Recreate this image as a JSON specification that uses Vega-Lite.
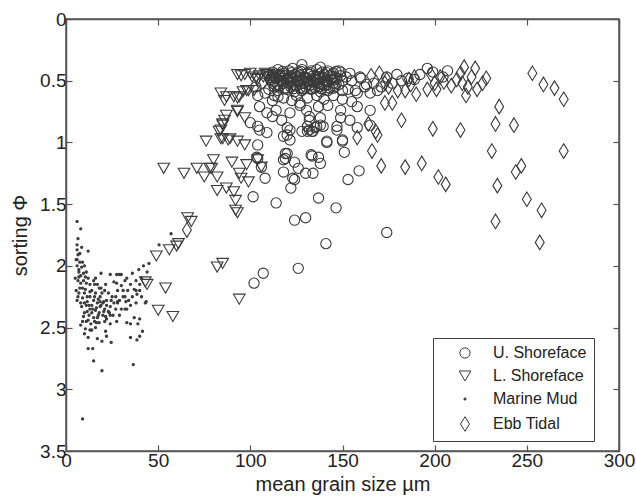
{
  "$schema": "https://vega.github.io/schema/vega-lite/v6.json",
  "width": 553,
  "height": 432,
  "autosize": {"type": "none"},
  "padding": {"left": 66, "top": 19, "right": 17, "bottom": 49},
  "background": "white",
  "config": {
    "view": {"stroke": "#555555", "strokeWidth": 1.5},
    "font": "Liberation Sans",
    "axis": {
      "domainColor": "#555555", "domainWidth": 1.5,
      "tickColor": "#555555", "tickWidth": 1.2, "tickSize": -6,
      "labelFont": "Liberation Sans", "labelFontSize": 19, "labelColor": "#222222",
      "titleFont": "Liberation Sans", "titleFontSize": 20, "titleColor": "#222222", "titleFontWeight": "normal",
      "grid": false, "labelFlush": false, "labelOverlap": false, "labelBound": false
    }
  },
  "datasets": {
    "pts": [
      {"grain": 6, "sorting": 1.64, "facies": "Marine Mud"},
      {"grain": 8, "sorting": 1.70, "facies": "Marine Mud"},
      {"grain": 6.5, "sorting": 1.78, "facies": "Marine Mud"},
      {"grain": 6, "sorting": 1.83, "facies": "Marine Mud"},
      {"grain": 50.5, "sorting": 1.83, "facies": "Marine Mud"},
      {"grain": 57, "sorting": 1.74, "facies": "Marine Mud"},
      {"grain": 9, "sorting": 3.24, "facies": "Marine Mud"},
      {"grain": 19.5, "sorting": 2.85, "facies": "Marine Mud"},
      {"grain": 15, "sorting": 2.77, "facies": "Marine Mud"},
      {"grain": 36.5, "sorting": 2.80, "facies": "Marine Mud"},
      {"grain": 12, "sorting": 2.67, "facies": "Marine Mud"},
      {"grain": 14.5, "sorting": 2.67, "facies": "Marine Mud"},
      {"grain": 17, "sorting": 2.59, "facies": "Marine Mud"},
      {"grain": 19.5, "sorting": 2.61, "facies": "Marine Mud"},
      {"grain": 22, "sorting": 2.57, "facies": "Marine Mud"},
      {"grain": 24.5, "sorting": 2.62, "facies": "Marine Mud"},
      {"grain": 21.5, "sorting": 2.53, "facies": "Marine Mud"},
      {"grain": 35, "sorting": 2.58, "facies": "Marine Mud"},
      {"grain": 38.5, "sorting": 2.60, "facies": "Marine Mud"},
      {"grain": 40, "sorting": 2.57, "facies": "Marine Mud"},
      {"grain": 41.5, "sorting": 2.53, "facies": "Marine Mud"},
      {"grain": 39, "sorting": 2.47, "facies": "Marine Mud"},
      {"grain": 40, "sorting": 2.43, "facies": "Marine Mud"},
      {"grain": 43.5, "sorting": 2.29, "facies": "Marine Mud"},
      {"grain": 41, "sorting": 2.25, "facies": "Marine Mud"},
      {"grain": 40, "sorting": 2.20, "facies": "Marine Mud"},
      {"grain": 38.5, "sorting": 2.23, "facies": "Marine Mud"},
      {"grain": 37, "sorting": 2.19, "facies": "Marine Mud"},
      {"grain": 33.5, "sorting": 2.20, "facies": "Marine Mud"},
      {"grain": 35, "sorting": 2.15, "facies": "Marine Mud"},
      {"grain": 36, "sorting": 2.06, "facies": "Marine Mud"},
      {"grain": 39.5, "sorting": 2.03, "facies": "Marine Mud"},
      {"grain": 42, "sorting": 2.00, "facies": "Marine Mud"},
      {"grain": 32, "sorting": 2.12, "facies": "Marine Mud"},
      {"grain": 30, "sorting": 2.07, "facies": "Marine Mud"},
      {"grain": 27.5, "sorting": 2.07, "facies": "Marine Mud"},
      {"grain": 24, "sorting": 2.07, "facies": "Marine Mud"},
      {"grain": 19, "sorting": 2.06, "facies": "Marine Mud"},
      {"grain": 21.5, "sorting": 2.15, "facies": "Marine Mud"},
      {"grain": 27.5, "sorting": 2.14, "facies": "Marine Mud"},
      {"grain": 28, "sorting": 2.20, "facies": "Marine Mud"},
      {"grain": 31, "sorting": 2.20, "facies": "Marine Mud"},
      {"grain": 32, "sorting": 2.25, "facies": "Marine Mud"},
      {"grain": 28, "sorting": 2.29, "facies": "Marine Mud"},
      {"grain": 32.5, "sorting": 2.29, "facies": "Marine Mud"},
      {"grain": 32, "sorting": 2.35, "facies": "Marine Mud"},
      {"grain": 27, "sorting": 2.35, "facies": "Marine Mud"},
      {"grain": 24, "sorting": 2.40, "facies": "Marine Mud"},
      {"grain": 25.5, "sorting": 2.40, "facies": "Marine Mud"},
      {"grain": 27.5, "sorting": 2.45, "facies": "Marine Mud"},
      {"grain": 33, "sorting": 2.46, "facies": "Marine Mud"},
      {"grain": 6, "sorting": 1.87, "facies": "Marine Mud"},
      {"grain": 6.5, "sorting": 1.91, "facies": "Marine Mud"},
      {"grain": 6, "sorting": 1.95, "facies": "Marine Mud"},
      {"grain": 7.5, "sorting": 1.97, "facies": "Marine Mud"},
      {"grain": 8.5, "sorting": 2.01, "facies": "Marine Mud"},
      {"grain": 7, "sorting": 2.03, "facies": "Marine Mud"},
      {"grain": 9.5, "sorting": 2.06, "facies": "Marine Mud"},
      {"grain": 7, "sorting": 2.09, "facies": "Marine Mud"},
      {"grain": 10.5, "sorting": 2.09, "facies": "Marine Mud"},
      {"grain": 8, "sorting": 2.14, "facies": "Marine Mud"},
      {"grain": 11, "sorting": 2.14, "facies": "Marine Mud"},
      {"grain": 7.5, "sorting": 2.18, "facies": "Marine Mud"},
      {"grain": 10.5, "sorting": 2.19, "facies": "Marine Mud"},
      {"grain": 13, "sorting": 2.21, "facies": "Marine Mud"},
      {"grain": 15.5, "sorting": 2.15, "facies": "Marine Mud"},
      {"grain": 18, "sorting": 2.18, "facies": "Marine Mud"},
      {"grain": 15.5, "sorting": 2.25, "facies": "Marine Mud"},
      {"grain": 18.5, "sorting": 2.25, "facies": "Marine Mud"},
      {"grain": 20.5, "sorting": 2.29, "facies": "Marine Mud"},
      {"grain": 22, "sorting": 2.32, "facies": "Marine Mud"},
      {"grain": 24.5, "sorting": 2.28, "facies": "Marine Mud"},
      {"grain": 18.5, "sorting": 2.33, "facies": "Marine Mud"},
      {"grain": 16.5, "sorting": 2.34, "facies": "Marine Mud"},
      {"grain": 14, "sorting": 2.32, "facies": "Marine Mud"},
      {"grain": 11.5, "sorting": 2.29, "facies": "Marine Mud"},
      {"grain": 9, "sorting": 2.26, "facies": "Marine Mud"},
      {"grain": 6.5, "sorting": 2.25, "facies": "Marine Mud"},
      {"grain": 8.5, "sorting": 2.33, "facies": "Marine Mud"},
      {"grain": 11.5, "sorting": 2.37, "facies": "Marine Mud"},
      {"grain": 14, "sorting": 2.38, "facies": "Marine Mud"},
      {"grain": 9.5, "sorting": 2.41, "facies": "Marine Mud"},
      {"grain": 12, "sorting": 2.44, "facies": "Marine Mud"},
      {"grain": 15, "sorting": 2.42, "facies": "Marine Mud"},
      {"grain": 16.5, "sorting": 2.46, "facies": "Marine Mud"},
      {"grain": 10.5, "sorting": 2.51, "facies": "Marine Mud"},
      {"grain": 13, "sorting": 2.52, "facies": "Marine Mud"},
      {"grain": 20.5, "sorting": 2.37, "facies": "Marine Mud"},
      {"grain": 21.5, "sorting": 2.41, "facies": "Marine Mud"},
      {"grain": 17.5, "sorting": 2.40, "facies": "Marine Mud"},
      {"grain": 23, "sorting": 2.37, "facies": "Marine Mud"},
      {"grain": 5.5, "sorting": 1.95, "facies": "Marine Mud"},
      {"grain": 6, "sorting": 2.00, "facies": "Marine Mud"},
      {"grain": 7, "sorting": 2.05, "facies": "Marine Mud"},
      {"grain": 5, "sorting": 2.10, "facies": "Marine Mud"},
      {"grain": 6.5, "sorting": 2.12, "facies": "Marine Mud"},
      {"grain": 8, "sorting": 2.08, "facies": "Marine Mud"},
      {"grain": 5.5, "sorting": 2.20, "facies": "Marine Mud"},
      {"grain": 7, "sorting": 2.22, "facies": "Marine Mud"},
      {"grain": 6, "sorting": 2.28, "facies": "Marine Mud"},
      {"grain": 8, "sorting": 2.30, "facies": "Marine Mud"},
      {"grain": 9, "sorting": 2.18, "facies": "Marine Mud"},
      {"grain": 10, "sorting": 2.22, "facies": "Marine Mud"},
      {"grain": 9.5, "sorting": 2.12, "facies": "Marine Mud"},
      {"grain": 11, "sorting": 2.05, "facies": "Marine Mud"},
      {"grain": 12, "sorting": 2.10, "facies": "Marine Mud"},
      {"grain": 11.5, "sorting": 2.25, "facies": "Marine Mud"},
      {"grain": 10, "sorting": 2.30, "facies": "Marine Mud"},
      {"grain": 12.5, "sorting": 2.32, "facies": "Marine Mud"},
      {"grain": 13, "sorting": 2.25, "facies": "Marine Mud"},
      {"grain": 14, "sorting": 2.20, "facies": "Marine Mud"},
      {"grain": 15, "sorting": 2.28, "facies": "Marine Mud"},
      {"grain": 16, "sorting": 2.22, "facies": "Marine Mud"},
      {"grain": 17, "sorting": 2.30, "facies": "Marine Mud"},
      {"grain": 16, "sorting": 2.36, "facies": "Marine Mud"},
      {"grain": 17.5, "sorting": 2.27, "facies": "Marine Mud"},
      {"grain": 19, "sorting": 2.32, "facies": "Marine Mud"},
      {"grain": 19.5, "sorting": 2.22, "facies": "Marine Mud"},
      {"grain": 20, "sorting": 2.40, "facies": "Marine Mud"},
      {"grain": 21, "sorting": 2.35, "facies": "Marine Mud"},
      {"grain": 22, "sorting": 2.28, "facies": "Marine Mud"},
      {"grain": 23, "sorting": 2.22, "facies": "Marine Mud"},
      {"grain": 24, "sorting": 2.33, "facies": "Marine Mud"},
      {"grain": 25, "sorting": 2.25, "facies": "Marine Mud"},
      {"grain": 26, "sorting": 2.30, "facies": "Marine Mud"},
      {"grain": 10, "sorting": 2.38, "facies": "Marine Mud"},
      {"grain": 11, "sorting": 2.45, "facies": "Marine Mud"},
      {"grain": 12.5, "sorting": 2.40, "facies": "Marine Mud"},
      {"grain": 13.5, "sorting": 2.47, "facies": "Marine Mud"},
      {"grain": 14.5, "sorting": 2.35, "facies": "Marine Mud"},
      {"grain": 15.5, "sorting": 2.45, "facies": "Marine Mud"},
      {"grain": 16, "sorting": 2.50, "facies": "Marine Mud"},
      {"grain": 17, "sorting": 2.42, "facies": "Marine Mud"},
      {"grain": 18, "sorting": 2.38, "facies": "Marine Mud"},
      {"grain": 9, "sorting": 2.45, "facies": "Marine Mud"},
      {"grain": 8, "sorting": 2.48, "facies": "Marine Mud"},
      {"grain": 10, "sorting": 2.55, "facies": "Marine Mud"},
      {"grain": 12, "sorting": 2.58, "facies": "Marine Mud"},
      {"grain": 14, "sorting": 2.52, "facies": "Marine Mud"},
      {"grain": 18, "sorting": 2.46, "facies": "Marine Mud"},
      {"grain": 20, "sorting": 2.30, "facies": "Marine Mud"},
      {"grain": 22, "sorting": 2.43, "facies": "Marine Mud"},
      {"grain": 23.5, "sorting": 2.38, "facies": "Marine Mud"},
      {"grain": 27, "sorting": 2.25, "facies": "Marine Mud"},
      {"grain": 29, "sorting": 2.28, "facies": "Marine Mud"},
      {"grain": 30, "sorting": 2.35, "facies": "Marine Mud"},
      {"grain": 31, "sorting": 2.25, "facies": "Marine Mud"},
      {"grain": 34, "sorting": 2.28, "facies": "Marine Mud"},
      {"grain": 36, "sorting": 2.25, "facies": "Marine Mud"},
      {"grain": 38, "sorting": 2.30, "facies": "Marine Mud"},
      {"grain": 37, "sorting": 2.42, "facies": "Marine Mud"},
      {"grain": 35, "sorting": 2.47, "facies": "Marine Mud"},
      {"grain": 26, "sorting": 2.13, "facies": "Marine Mud"},
      {"grain": 28, "sorting": 2.30, "facies": "Marine Mud"},
      {"grain": 30, "sorting": 2.16, "facies": "Marine Mud"},
      {"grain": 33, "sorting": 2.10, "facies": "Marine Mud"},
      {"grain": 38, "sorting": 2.12, "facies": "Marine Mud"},
      {"grain": 40, "sorting": 2.15, "facies": "Marine Mud"},
      {"grain": 13, "sorting": 2.15, "facies": "Marine Mud"},
      {"grain": 15, "sorting": 2.12, "facies": "Marine Mud"},
      {"grain": 17, "sorting": 2.15, "facies": "Marine Mud"},
      {"grain": 19, "sorting": 2.18, "facies": "Marine Mud"},
      {"grain": 21, "sorting": 2.20, "facies": "Marine Mud"},
      {"grain": 7.5, "sorting": 1.90, "facies": "Marine Mud"},
      {"grain": 8.5, "sorting": 1.85, "facies": "Marine Mud"},
      {"grain": 9, "sorting": 1.97, "facies": "Marine Mud"},
      {"grain": 10, "sorting": 2.00, "facies": "Marine Mud"},
      {"grain": 12, "sorting": 1.88, "facies": "Marine Mud"},
      {"grain": 16, "sorting": 2.10, "facies": "Marine Mud"},
      {"grain": 11, "sorting": 2.32, "facies": "Marine Mud"},
      {"grain": 13, "sorting": 2.35, "facies": "Marine Mud"},
      {"grain": 18.5, "sorting": 2.29, "facies": "Marine Mud"},
      {"grain": 21, "sorting": 2.45, "facies": "Marine Mud"},
      {"grain": 24, "sorting": 2.47, "facies": "Marine Mud"},
      {"grain": 29, "sorting": 2.40, "facies": "Marine Mud"},
      {"grain": 33, "sorting": 2.35, "facies": "Marine Mud"},
      {"grain": 35, "sorting": 2.32, "facies": "Marine Mud"},
      {"grain": 38, "sorting": 2.20, "facies": "Marine Mud"},
      {"grain": 41, "sorting": 2.10, "facies": "Marine Mud"},
      {"grain": 43, "sorting": 2.30, "facies": "Marine Mud"},
      {"grain": 44, "sorting": 2.05, "facies": "Marine Mud"},
      {"grain": 45, "sorting": 1.98, "facies": "Marine Mud"},
      {"grain": 29, "sorting": 2.07, "facies": "Marine Mud"},

      {"grain": 93, "sorting": 0.45, "facies": "L. Shoreface"},
      {"grain": 101, "sorting": 0.47, "facies": "L. Shoreface"},
      {"grain": 104, "sorting": 0.49, "facies": "L. Shoreface"},
      {"grain": 109, "sorting": 0.45, "facies": "L. Shoreface"},
      {"grain": 99, "sorting": 0.58, "facies": "L. Shoreface"},
      {"grain": 96, "sorting": 0.59, "facies": "L. Shoreface"},
      {"grain": 87, "sorting": 0.63, "facies": "L. Shoreface"},
      {"grain": 91, "sorting": 0.63, "facies": "L. Shoreface"},
      {"grain": 93, "sorting": 0.64, "facies": "L. Shoreface"},
      {"grain": 84, "sorting": 0.60, "facies": "L. Shoreface"},
      {"grain": 86, "sorting": 0.66, "facies": "L. Shoreface"},
      {"grain": 93, "sorting": 0.75, "facies": "L. Shoreface"},
      {"grain": 87, "sorting": 0.78, "facies": "L. Shoreface"},
      {"grain": 86, "sorting": 0.82, "facies": "L. Shoreface"},
      {"grain": 85, "sorting": 0.86, "facies": "L. Shoreface"},
      {"grain": 83, "sorting": 0.91, "facies": "L. Shoreface"},
      {"grain": 97, "sorting": 0.80, "facies": "L. Shoreface"},
      {"grain": 85, "sorting": 0.97, "facies": "L. Shoreface"},
      {"grain": 89, "sorting": 0.97, "facies": "L. Shoreface"},
      {"grain": 93, "sorting": 0.99, "facies": "L. Shoreface"},
      {"grain": 97, "sorting": 1.02, "facies": "L. Shoreface"},
      {"grain": 76, "sorting": 0.99, "facies": "L. Shoreface"},
      {"grain": 80, "sorting": 1.14, "facies": "L. Shoreface"},
      {"grain": 90, "sorting": 1.16, "facies": "L. Shoreface"},
      {"grain": 53, "sorting": 1.21, "facies": "L. Shoreface"},
      {"grain": 64, "sorting": 1.25, "facies": "L. Shoreface"},
      {"grain": 71, "sorting": 1.21, "facies": "L. Shoreface"},
      {"grain": 75, "sorting": 1.28, "facies": "L. Shoreface"},
      {"grain": 82, "sorting": 1.28, "facies": "L. Shoreface"},
      {"grain": 78, "sorting": 1.21, "facies": "L. Shoreface"},
      {"grain": 98, "sorting": 1.18, "facies": "L. Shoreface"},
      {"grain": 94, "sorting": 1.25, "facies": "L. Shoreface"},
      {"grain": 99, "sorting": 1.32, "facies": "L. Shoreface"},
      {"grain": 95, "sorting": 1.29, "facies": "L. Shoreface"},
      {"grain": 82, "sorting": 1.39, "facies": "L. Shoreface"},
      {"grain": 87, "sorting": 1.37, "facies": "L. Shoreface"},
      {"grain": 91, "sorting": 1.40, "facies": "L. Shoreface"},
      {"grain": 92, "sorting": 1.47, "facies": "L. Shoreface"},
      {"grain": 92, "sorting": 1.55, "facies": "L. Shoreface"},
      {"grain": 93, "sorting": 1.57, "facies": "L. Shoreface"},
      {"grain": 66, "sorting": 1.61, "facies": "L. Shoreface"},
      {"grain": 68, "sorting": 1.64, "facies": "L. Shoreface"},
      {"grain": 61, "sorting": 1.82, "facies": "L. Shoreface"},
      {"grain": 56, "sorting": 1.87, "facies": "L. Shoreface"},
      {"grain": 49, "sorting": 1.92, "facies": "L. Shoreface"},
      {"grain": 43, "sorting": 2.13, "facies": "L. Shoreface"},
      {"grain": 44, "sorting": 2.15, "facies": "L. Shoreface"},
      {"grain": 54, "sorting": 2.18, "facies": "L. Shoreface"},
      {"grain": 50, "sorting": 2.36, "facies": "L. Shoreface"},
      {"grain": 58, "sorting": 2.41, "facies": "L. Shoreface"},
      {"grain": 82, "sorting": 2.01, "facies": "L. Shoreface"},
      {"grain": 85, "sorting": 1.98, "facies": "L. Shoreface"},
      {"grain": 94, "sorting": 2.27, "facies": "L. Shoreface"},
      {"grain": 79, "sorting": 1.21, "facies": "L. Shoreface"},
      {"grain": 84, "sorting": 0.97, "facies": "L. Shoreface"},
      {"grain": 88, "sorting": 0.98, "facies": "L. Shoreface"},
      {"grain": 104, "sorting": 1.14, "facies": "L. Shoreface"},
      {"grain": 106, "sorting": 1.20, "facies": "L. Shoreface"},
      {"grain": 84, "sorting": 0.90, "facies": "L. Shoreface"},
      {"grain": 85, "sorting": 0.85, "facies": "L. Shoreface"},
      {"grain": 100, "sorting": 0.44, "facies": "L. Shoreface"},
      {"grain": 108, "sorting": 0.44, "facies": "L. Shoreface"},
      {"grain": 98, "sorting": 0.58, "facies": "L. Shoreface"},
      {"grain": 94, "sorting": 0.63, "facies": "L. Shoreface"},
      {"grain": 102, "sorting": 0.58, "facies": "L. Shoreface"},
      {"grain": 93, "sorting": 0.74, "facies": "L. Shoreface"},
      {"grain": 95, "sorting": 0.46, "facies": "L. Shoreface"},
      {"grain": 97, "sorting": 0.45, "facies": "L. Shoreface"},
      {"grain": 103, "sorting": 0.48, "facies": "L. Shoreface"},
      {"grain": 105, "sorting": 0.46, "facies": "L. Shoreface"},
      {"grain": 107, "sorting": 0.47, "facies": "L. Shoreface"},
      {"grain": 110, "sorting": 0.45, "facies": "L. Shoreface"},
      {"grain": 112, "sorting": 0.47, "facies": "L. Shoreface"},
      {"grain": 114, "sorting": 0.46, "facies": "L. Shoreface"},
      {"grain": 117, "sorting": 0.48, "facies": "L. Shoreface"},
      {"grain": 120, "sorting": 0.46, "facies": "L. Shoreface"},
      {"grain": 60, "sorting": 1.84, "facies": "L. Shoreface"},

      {"grain": 102, "sorting": 2.14, "facies": "U. Shoreface"},
      {"grain": 107, "sorting": 2.06, "facies": "U. Shoreface"},
      {"grain": 126, "sorting": 2.02, "facies": "U. Shoreface"},
      {"grain": 141, "sorting": 1.82, "facies": "U. Shoreface"},
      {"grain": 174, "sorting": 1.73, "facies": "U. Shoreface"},
      {"grain": 124, "sorting": 1.63, "facies": "U. Shoreface"},
      {"grain": 130, "sorting": 1.61, "facies": "U. Shoreface"},
      {"grain": 137, "sorting": 1.45, "facies": "U. Shoreface"},
      {"grain": 146.5, "sorting": 1.53, "facies": "U. Shoreface"},
      {"grain": 101.5, "sorting": 1.44, "facies": "U. Shoreface"},
      {"grain": 114, "sorting": 1.49, "facies": "U. Shoreface"},
      {"grain": 122, "sorting": 1.37, "facies": "U. Shoreface"},
      {"grain": 123, "sorting": 1.29, "facies": "U. Shoreface"},
      {"grain": 153, "sorting": 1.30, "facies": "U. Shoreface"},
      {"grain": 159, "sorting": 1.23, "facies": "U. Shoreface"},
      {"grain": 118, "sorting": 1.24, "facies": "U. Shoreface"},
      {"grain": 130, "sorting": 1.25, "facies": "U. Shoreface"},
      {"grain": 134, "sorting": 1.25, "facies": "U. Shoreface"},
      {"grain": 126, "sorting": 1.21, "facies": "U. Shoreface"},
      {"grain": 124, "sorting": 1.16, "facies": "U. Shoreface"},
      {"grain": 133.5, "sorting": 1.11, "facies": "U. Shoreface"},
      {"grain": 138, "sorting": 1.17, "facies": "U. Shoreface"},
      {"grain": 151, "sorting": 1.08, "facies": "U. Shoreface"},
      {"grain": 150, "sorting": 0.99, "facies": "U. Shoreface"},
      {"grain": 141.5, "sorting": 1.00, "facies": "U. Shoreface"},
      {"grain": 128, "sorting": 0.91, "facies": "U. Shoreface"},
      {"grain": 133.5, "sorting": 0.91, "facies": "U. Shoreface"},
      {"grain": 138, "sorting": 0.86, "facies": "U. Shoreface"},
      {"grain": 147, "sorting": 0.90, "facies": "U. Shoreface"},
      {"grain": 120, "sorting": 0.94, "facies": "U. Shoreface"},
      {"grain": 120, "sorting": 1.09, "facies": "U. Shoreface"},
      {"grain": 118, "sorting": 1.14, "facies": "U. Shoreface"},
      {"grain": 104, "sorting": 1.02, "facies": "U. Shoreface"},
      {"grain": 104, "sorting": 1.13, "facies": "U. Shoreface"},
      {"grain": 108, "sorting": 1.29, "facies": "U. Shoreface"},
      {"grain": 105, "sorting": 0.90, "facies": "U. Shoreface"},
      {"grain": 109, "sorting": 0.92, "facies": "U. Shoreface"},
      {"grain": 119, "sorting": 1.13, "facies": "U. Shoreface"},
      {"grain": 121.5, "sorting": 0.90, "facies": "U. Shoreface"},
      {"grain": 132, "sorting": 0.90, "facies": "U. Shoreface"},
      {"grain": 136, "sorting": 0.87, "facies": "U. Shoreface"},
      {"grain": 105, "sorting": 0.71, "facies": "U. Shoreface"},
      {"grain": 109, "sorting": 0.76, "facies": "U. Shoreface"},
      {"grain": 112, "sorting": 0.79, "facies": "U. Shoreface"},
      {"grain": 114, "sorting": 0.74, "facies": "U. Shoreface"},
      {"grain": 121.5, "sorting": 0.76, "facies": "U. Shoreface"},
      {"grain": 117, "sorting": 0.82, "facies": "U. Shoreface"},
      {"grain": 120, "sorting": 0.88, "facies": "U. Shoreface"},
      {"grain": 104, "sorting": 0.87, "facies": "U. Shoreface"},
      {"grain": 100, "sorting": 0.84, "facies": "U. Shoreface"},
      {"grain": 112, "sorting": 0.66, "facies": "U. Shoreface"},
      {"grain": 115, "sorting": 0.63, "facies": "U. Shoreface"},
      {"grain": 122.5, "sorting": 0.66, "facies": "U. Shoreface"},
      {"grain": 127, "sorting": 0.68, "facies": "U. Shoreface"},
      {"grain": 130.5, "sorting": 0.74, "facies": "U. Shoreface"},
      {"grain": 132, "sorting": 0.82, "facies": "U. Shoreface"},
      {"grain": 135, "sorting": 0.88, "facies": "U. Shoreface"},
      {"grain": 131, "sorting": 0.91, "facies": "U. Shoreface"},
      {"grain": 118, "sorting": 0.95, "facies": "U. Shoreface"},
      {"grain": 121.5, "sorting": 0.98, "facies": "U. Shoreface"},
      {"grain": 119, "sorting": 1.09, "facies": "U. Shoreface"},
      {"grain": 106, "sorting": 1.20, "facies": "U. Shoreface"},
      {"grain": 103.5, "sorting": 1.12, "facies": "U. Shoreface"},
      {"grain": 137, "sorting": 1.12, "facies": "U. Shoreface"},
      {"grain": 133, "sorting": 1.10, "facies": "U. Shoreface"},
      {"grain": 124, "sorting": 1.30, "facies": "U. Shoreface"},
      {"grain": 149, "sorting": 0.74, "facies": "U. Shoreface"},
      {"grain": 158, "sorting": 0.71, "facies": "U. Shoreface"},
      {"grain": 165, "sorting": 0.74, "facies": "U. Shoreface"},
      {"grain": 149, "sorting": 0.80, "facies": "U. Shoreface"},
      {"grain": 154, "sorting": 0.82, "facies": "U. Shoreface"},
      {"grain": 158, "sorting": 0.88, "facies": "U. Shoreface"},
      {"grain": 165, "sorting": 0.86, "facies": "U. Shoreface"},
      {"grain": 141.5, "sorting": 0.99, "facies": "U. Shoreface"},
      {"grain": 150, "sorting": 0.98, "facies": "U. Shoreface"},
      {"grain": 132, "sorting": 0.79, "facies": "U. Shoreface"},
      {"grain": 137, "sorting": 0.71, "facies": "U. Shoreface"},
      {"grain": 138, "sorting": 0.80, "facies": "U. Shoreface"},
      {"grain": 131, "sorting": 0.87, "facies": "U. Shoreface"},
      {"grain": 134, "sorting": 0.91, "facies": "U. Shoreface"},
      {"grain": 139.5, "sorting": 0.87, "facies": "U. Shoreface"},
      {"grain": 147, "sorting": 0.87, "facies": "U. Shoreface"},
      {"grain": 149, "sorting": 0.43, "facies": "U. Shoreface"},
      {"grain": 154, "sorting": 0.44, "facies": "U. Shoreface"},
      {"grain": 159.5, "sorting": 0.47, "facies": "U. Shoreface"},
      {"grain": 163, "sorting": 0.53, "facies": "U. Shoreface"},
      {"grain": 157, "sorting": 0.58, "facies": "U. Shoreface"},
      {"grain": 169, "sorting": 0.58, "facies": "U. Shoreface"},
      {"grain": 174, "sorting": 0.47, "facies": "U. Shoreface"},
      {"grain": 179.5, "sorting": 0.45, "facies": "U. Shoreface"},
      {"grain": 185.5, "sorting": 0.48, "facies": "U. Shoreface"},
      {"grain": 189, "sorting": 0.49, "facies": "U. Shoreface"},
      {"grain": 196, "sorting": 0.40, "facies": "U. Shoreface"},
      {"grain": 199, "sorting": 0.43, "facies": "U. Shoreface"},
      {"grain": 204.5, "sorting": 0.47, "facies": "U. Shoreface"},
      {"grain": 150, "sorting": 0.58, "facies": "U. Shoreface"},
      {"grain": 145, "sorting": 0.56, "facies": "U. Shoreface"},
      {"grain": 138, "sorting": 0.39, "facies": "U. Shoreface"},
      {"grain": 128, "sorting": 0.37, "facies": "U. Shoreface"},
      {"grain": 152, "sorting": 0.47, "facies": "U. Shoreface"},
      {"grain": 155, "sorting": 0.50, "facies": "U. Shoreface"},
      {"grain": 160, "sorting": 0.48, "facies": "U. Shoreface"},
      {"grain": 162, "sorting": 0.55, "facies": "U. Shoreface"},
      {"grain": 165, "sorting": 0.60, "facies": "U. Shoreface"},
      {"grain": 158, "sorting": 0.60, "facies": "U. Shoreface"},
      {"grain": 153, "sorting": 0.57, "facies": "U. Shoreface"},
      {"grain": 167, "sorting": 0.52, "facies": "U. Shoreface"},
      {"grain": 171, "sorting": 0.55, "facies": "U. Shoreface"},
      {"grain": 177, "sorting": 0.52, "facies": "U. Shoreface"},
      {"grain": 182, "sorting": 0.50, "facies": "U. Shoreface"},
      {"grain": 192, "sorting": 0.45, "facies": "U. Shoreface"},
      {"grain": 207, "sorting": 0.42, "facies": "U. Shoreface"},
      {"grain": 103, "sorting": 0.55, "facies": "U. Shoreface"},
      {"grain": 106, "sorting": 0.52, "facies": "U. Shoreface"},
      {"grain": 108, "sorting": 0.60, "facies": "U. Shoreface"},
      {"grain": 110, "sorting": 0.57, "facies": "U. Shoreface"},
      {"grain": 104, "sorting": 0.62, "facies": "U. Shoreface"},
      {"grain": 113, "sorting": 0.62, "facies": "U. Shoreface"},
      {"grain": 118, "sorting": 0.64, "facies": "U. Shoreface"},
      {"grain": 125, "sorting": 0.62, "facies": "U. Shoreface"},
      {"grain": 131, "sorting": 0.64, "facies": "U. Shoreface"},
      {"grain": 136, "sorting": 0.62, "facies": "U. Shoreface"},
      {"grain": 140, "sorting": 0.65, "facies": "U. Shoreface"},
      {"grain": 145, "sorting": 0.62, "facies": "U. Shoreface"},
      {"grain": 150, "sorting": 0.65, "facies": "U. Shoreface"},
      {"grain": 155, "sorting": 0.67, "facies": "U. Shoreface"},
      {"grain": 142, "sorting": 0.70, "facies": "U. Shoreface"},
      {"grain": 127, "sorting": 0.70, "facies": "U. Shoreface"},
      {"grain": 112, "sorting": 0.43, "facies": "U. Shoreface"},
      {"grain": 115, "sorting": 0.41, "facies": "U. Shoreface"},
      {"grain": 118, "sorting": 0.44, "facies": "U. Shoreface"},
      {"grain": 121, "sorting": 0.42, "facies": "U. Shoreface"},
      {"grain": 123, "sorting": 0.40, "facies": "U. Shoreface"},
      {"grain": 126, "sorting": 0.43, "facies": "U. Shoreface"},
      {"grain": 128, "sorting": 0.41, "facies": "U. Shoreface"},
      {"grain": 131, "sorting": 0.44, "facies": "U. Shoreface"},
      {"grain": 133, "sorting": 0.42, "facies": "U. Shoreface"},
      {"grain": 136, "sorting": 0.41, "facies": "U. Shoreface"},
      {"grain": 139, "sorting": 0.43, "facies": "U. Shoreface"},
      {"grain": 142, "sorting": 0.42, "facies": "U. Shoreface"},
      {"grain": 145, "sorting": 0.44, "facies": "U. Shoreface"},
      {"grain": 148, "sorting": 0.42, "facies": "U. Shoreface"},
      {"grain": 110, "sorting": 0.46, "facies": "U. Shoreface"},
      {"grain": 113, "sorting": 0.47, "facies": "U. Shoreface"},
      {"grain": 116, "sorting": 0.45, "facies": "U. Shoreface"},
      {"grain": 119, "sorting": 0.46, "facies": "U. Shoreface"},
      {"grain": 122, "sorting": 0.47, "facies": "U. Shoreface"},
      {"grain": 124, "sorting": 0.45, "facies": "U. Shoreface"},
      {"grain": 127, "sorting": 0.46, "facies": "U. Shoreface"},
      {"grain": 129, "sorting": 0.47, "facies": "U. Shoreface"},
      {"grain": 132, "sorting": 0.45, "facies": "U. Shoreface"},
      {"grain": 134, "sorting": 0.46, "facies": "U. Shoreface"},
      {"grain": 137, "sorting": 0.47, "facies": "U. Shoreface"},
      {"grain": 140, "sorting": 0.45, "facies": "U. Shoreface"},
      {"grain": 143, "sorting": 0.46, "facies": "U. Shoreface"},
      {"grain": 146, "sorting": 0.47, "facies": "U. Shoreface"},
      {"grain": 149, "sorting": 0.46, "facies": "U. Shoreface"},
      {"grain": 111, "sorting": 0.49, "facies": "U. Shoreface"},
      {"grain": 114, "sorting": 0.48, "facies": "U. Shoreface"},
      {"grain": 117, "sorting": 0.50, "facies": "U. Shoreface"},
      {"grain": 120, "sorting": 0.49, "facies": "U. Shoreface"},
      {"grain": 123, "sorting": 0.48, "facies": "U. Shoreface"},
      {"grain": 125, "sorting": 0.50, "facies": "U. Shoreface"},
      {"grain": 128, "sorting": 0.49, "facies": "U. Shoreface"},
      {"grain": 130, "sorting": 0.48, "facies": "U. Shoreface"},
      {"grain": 133, "sorting": 0.50, "facies": "U. Shoreface"},
      {"grain": 135, "sorting": 0.49, "facies": "U. Shoreface"},
      {"grain": 138, "sorting": 0.48, "facies": "U. Shoreface"},
      {"grain": 141, "sorting": 0.50, "facies": "U. Shoreface"},
      {"grain": 144, "sorting": 0.49, "facies": "U. Shoreface"},
      {"grain": 147, "sorting": 0.48, "facies": "U. Shoreface"},
      {"grain": 150, "sorting": 0.50, "facies": "U. Shoreface"},
      {"grain": 112, "sorting": 0.52, "facies": "U. Shoreface"},
      {"grain": 115, "sorting": 0.53, "facies": "U. Shoreface"},
      {"grain": 118, "sorting": 0.51, "facies": "U. Shoreface"},
      {"grain": 121, "sorting": 0.52, "facies": "U. Shoreface"},
      {"grain": 124, "sorting": 0.53, "facies": "U. Shoreface"},
      {"grain": 126, "sorting": 0.51, "facies": "U. Shoreface"},
      {"grain": 129, "sorting": 0.52, "facies": "U. Shoreface"},
      {"grain": 131, "sorting": 0.53, "facies": "U. Shoreface"},
      {"grain": 134, "sorting": 0.51, "facies": "U. Shoreface"},
      {"grain": 136, "sorting": 0.52, "facies": "U. Shoreface"},
      {"grain": 139, "sorting": 0.53, "facies": "U. Shoreface"},
      {"grain": 142, "sorting": 0.51, "facies": "U. Shoreface"},
      {"grain": 145, "sorting": 0.52, "facies": "U. Shoreface"},
      {"grain": 148, "sorting": 0.53, "facies": "U. Shoreface"},
      {"grain": 113, "sorting": 0.55, "facies": "U. Shoreface"},
      {"grain": 116, "sorting": 0.54, "facies": "U. Shoreface"},
      {"grain": 119, "sorting": 0.56, "facies": "U. Shoreface"},
      {"grain": 122, "sorting": 0.55, "facies": "U. Shoreface"},
      {"grain": 125, "sorting": 0.54, "facies": "U. Shoreface"},
      {"grain": 127, "sorting": 0.56, "facies": "U. Shoreface"},
      {"grain": 130, "sorting": 0.55, "facies": "U. Shoreface"},
      {"grain": 132, "sorting": 0.54, "facies": "U. Shoreface"},
      {"grain": 135, "sorting": 0.56, "facies": "U. Shoreface"},
      {"grain": 137, "sorting": 0.55, "facies": "U. Shoreface"},
      {"grain": 140, "sorting": 0.54, "facies": "U. Shoreface"},
      {"grain": 143, "sorting": 0.56, "facies": "U. Shoreface"},
      {"grain": 146, "sorting": 0.55, "facies": "U. Shoreface"},
      {"grain": 115, "sorting": 0.58, "facies": "U. Shoreface"},
      {"grain": 120, "sorting": 0.57, "facies": "U. Shoreface"},
      {"grain": 124, "sorting": 0.59, "facies": "U. Shoreface"},
      {"grain": 128, "sorting": 0.58, "facies": "U. Shoreface"},
      {"grain": 133, "sorting": 0.57, "facies": "U. Shoreface"},
      {"grain": 138, "sorting": 0.59, "facies": "U. Shoreface"},
      {"grain": 142, "sorting": 0.58, "facies": "U. Shoreface"},
      {"grain": 113.5, "sorting": 0.445, "facies": "U. Shoreface"},
      {"grain": 117.5, "sorting": 0.425, "facies": "U. Shoreface"},
      {"grain": 122.5, "sorting": 0.435, "facies": "U. Shoreface"},
      {"grain": 127.5, "sorting": 0.425, "facies": "U. Shoreface"},
      {"grain": 132.5, "sorting": 0.435, "facies": "U. Shoreface"},
      {"grain": 137.5, "sorting": 0.445, "facies": "U. Shoreface"},
      {"grain": 141.5, "sorting": 0.435, "facies": "U. Shoreface"},
      {"grain": 146.5, "sorting": 0.425, "facies": "U. Shoreface"},
      {"grain": 111.5, "sorting": 0.475, "facies": "U. Shoreface"},
      {"grain": 115.5, "sorting": 0.465, "facies": "U. Shoreface"},
      {"grain": 120.5, "sorting": 0.475, "facies": "U. Shoreface"},
      {"grain": 125.5, "sorting": 0.465, "facies": "U. Shoreface"},
      {"grain": 130.5, "sorting": 0.475, "facies": "U. Shoreface"},
      {"grain": 135.5, "sorting": 0.465, "facies": "U. Shoreface"},
      {"grain": 139.5, "sorting": 0.475, "facies": "U. Shoreface"},
      {"grain": 144.5, "sorting": 0.465, "facies": "U. Shoreface"},
      {"grain": 112.5, "sorting": 0.505, "facies": "U. Shoreface"},
      {"grain": 116.5, "sorting": 0.495, "facies": "U. Shoreface"},
      {"grain": 121.5, "sorting": 0.505, "facies": "U. Shoreface"},
      {"grain": 126.5, "sorting": 0.495, "facies": "U. Shoreface"},
      {"grain": 131.5, "sorting": 0.505, "facies": "U. Shoreface"},
      {"grain": 136.5, "sorting": 0.495, "facies": "U. Shoreface"},
      {"grain": 140.5, "sorting": 0.505, "facies": "U. Shoreface"},
      {"grain": 145.5, "sorting": 0.495, "facies": "U. Shoreface"},
      {"grain": 113.5, "sorting": 0.535, "facies": "U. Shoreface"},
      {"grain": 117.5, "sorting": 0.525, "facies": "U. Shoreface"},
      {"grain": 122.5, "sorting": 0.535, "facies": "U. Shoreface"},
      {"grain": 127.5, "sorting": 0.525, "facies": "U. Shoreface"},
      {"grain": 132.5, "sorting": 0.535, "facies": "U. Shoreface"},
      {"grain": 137.5, "sorting": 0.525, "facies": "U. Shoreface"},
      {"grain": 141.5, "sorting": 0.535, "facies": "U. Shoreface"},
      {"grain": 146.5, "sorting": 0.525, "facies": "U. Shoreface"},
      {"grain": 118.5, "sorting": 0.565, "facies": "U. Shoreface"},
      {"grain": 123.5, "sorting": 0.565, "facies": "U. Shoreface"},
      {"grain": 128.5, "sorting": 0.565, "facies": "U. Shoreface"},
      {"grain": 133.5, "sorting": 0.565, "facies": "U. Shoreface"},
      {"grain": 138.5, "sorting": 0.565, "facies": "U. Shoreface"},

      {"grain": 65.6, "sorting": 1.71, "facies": "Ebb Tidal"},
      {"grain": 170, "sorting": 0.44, "facies": "Ebb Tidal"},
      {"grain": 174, "sorting": 0.49, "facies": "Ebb Tidal"},
      {"grain": 175, "sorting": 0.55, "facies": "Ebb Tidal"},
      {"grain": 180, "sorting": 0.58, "facies": "Ebb Tidal"},
      {"grain": 184, "sorting": 0.58, "facies": "Ebb Tidal"},
      {"grain": 186, "sorting": 0.49, "facies": "Ebb Tidal"},
      {"grain": 189, "sorting": 0.47, "facies": "Ebb Tidal"},
      {"grain": 190, "sorting": 0.61, "facies": "Ebb Tidal"},
      {"grain": 196, "sorting": 0.57, "facies": "Ebb Tidal"},
      {"grain": 198, "sorting": 0.45, "facies": "Ebb Tidal"},
      {"grain": 200, "sorting": 0.52, "facies": "Ebb Tidal"},
      {"grain": 203, "sorting": 0.47, "facies": "Ebb Tidal"},
      {"grain": 201, "sorting": 0.57, "facies": "Ebb Tidal"},
      {"grain": 205, "sorting": 0.51, "facies": "Ebb Tidal"},
      {"grain": 209, "sorting": 0.54, "facies": "Ebb Tidal"},
      {"grain": 212, "sorting": 0.49, "facies": "Ebb Tidal"},
      {"grain": 214, "sorting": 0.44, "facies": "Ebb Tidal"},
      {"grain": 216, "sorting": 0.39, "facies": "Ebb Tidal"},
      {"grain": 222, "sorting": 0.40, "facies": "Ebb Tidal"},
      {"grain": 217, "sorting": 0.62, "facies": "Ebb Tidal"},
      {"grain": 218, "sorting": 0.55, "facies": "Ebb Tidal"},
      {"grain": 223, "sorting": 0.57, "facies": "Ebb Tidal"},
      {"grain": 226, "sorting": 0.52, "facies": "Ebb Tidal"},
      {"grain": 228, "sorting": 0.48, "facies": "Ebb Tidal"},
      {"grain": 215, "sorting": 0.52, "facies": "Ebb Tidal"},
      {"grain": 165.5, "sorting": 0.46, "facies": "Ebb Tidal"},
      {"grain": 173, "sorting": 0.68, "facies": "Ebb Tidal"},
      {"grain": 177, "sorting": 0.68, "facies": "Ebb Tidal"},
      {"grain": 182, "sorting": 0.82, "facies": "Ebb Tidal"},
      {"grain": 199, "sorting": 0.89, "facies": "Ebb Tidal"},
      {"grain": 214, "sorting": 0.90, "facies": "Ebb Tidal"},
      {"grain": 158, "sorting": 0.96, "facies": "Ebb Tidal"},
      {"grain": 164, "sorting": 0.85, "facies": "Ebb Tidal"},
      {"grain": 168, "sorting": 0.91, "facies": "Ebb Tidal"},
      {"grain": 169, "sorting": 0.94, "facies": "Ebb Tidal"},
      {"grain": 166, "sorting": 1.07, "facies": "Ebb Tidal"},
      {"grain": 171, "sorting": 1.19, "facies": "Ebb Tidal"},
      {"grain": 184, "sorting": 1.20, "facies": "Ebb Tidal"},
      {"grain": 193, "sorting": 1.17, "facies": "Ebb Tidal"},
      {"grain": 202, "sorting": 1.28, "facies": "Ebb Tidal"},
      {"grain": 206, "sorting": 1.34, "facies": "Ebb Tidal"},
      {"grain": 235, "sorting": 0.71, "facies": "Ebb Tidal"},
      {"grain": 233, "sorting": 0.85, "facies": "Ebb Tidal"},
      {"grain": 243, "sorting": 0.86, "facies": "Ebb Tidal"},
      {"grain": 253, "sorting": 0.44, "facies": "Ebb Tidal"},
      {"grain": 259, "sorting": 0.53, "facies": "Ebb Tidal"},
      {"grain": 265, "sorting": 0.56, "facies": "Ebb Tidal"},
      {"grain": 270, "sorting": 0.65, "facies": "Ebb Tidal"},
      {"grain": 231, "sorting": 1.07, "facies": "Ebb Tidal"},
      {"grain": 270, "sorting": 1.07, "facies": "Ebb Tidal"},
      {"grain": 247, "sorting": 1.19, "facies": "Ebb Tidal"},
      {"grain": 244, "sorting": 1.24, "facies": "Ebb Tidal"},
      {"grain": 234, "sorting": 1.35, "facies": "Ebb Tidal"},
      {"grain": 250, "sorting": 1.46, "facies": "Ebb Tidal"},
      {"grain": 258, "sorting": 1.55, "facies": "Ebb Tidal"},
      {"grain": 233, "sorting": 1.64, "facies": "Ebb Tidal"},
      {"grain": 257, "sorting": 1.81, "facies": "Ebb Tidal"},
      {"grain": 173, "sorting": 0.52, "facies": "Ebb Tidal"},
      {"grain": 187, "sorting": 0.53, "facies": "Ebb Tidal"},
      {"grain": 220, "sorting": 0.47, "facies": "Ebb Tidal"}
    ]
  },
  "data": {"name": "pts"},
  "layer": [
    {
      "mark": {"type": "point", "stroke": "#3a3a3a", "strokeWidth": 1.1, "opacity": 1},
      "encoding": {
        "x": {
          "field": "grain", "type": "quantitative",
          "scale": {"domain": [0, 300], "nice": false, "zero": false},
          "axis": {"orient": "bottom", "values": [0, 50, 100, 150, 200, 250, 300], "format": "d", "labelPadding": 6, "title": "mean grain size µm", "titlePadding": 4}
        },
        "y": {
          "field": "sorting", "type": "quantitative",
          "scale": {"domain": [0, 3.5], "nice": false, "zero": false, "reverse": true},
          "axis": {"orient": "left", "values": [0, 0.5, 1, 1.5, 2, 2.5, 3, 3.5], "format": "~g", "labelPadding": 6, "title": "sorting Φ", "titlePadding": 9}
        },
        "shape": {
          "field": "facies", "type": "nominal",
          "scale": {"domain": ["U. Shoreface", "L. Shoreface", "Marine Mud", "Ebb Tidal"], "range": ["circle", "triangle-down", "circle", "M0,-1.3L0.8,0L0,1.3L-0.8,0Z"]},
          "legend": {
            "title": null, "orient": "none", "legendX": 367, "legendY": 319,
            "strokeColor": "#404040", "fillColor": "white", "padding": 7,
            "labelFont": "Liberation Sans", "labelFontSize": 16, "labelColor": "#222222",
            "symbolOffset": 17, "labelOffset": 20, "rowPadding": 7,
            "symbolStrokeColor": "#3a3a3a", "symbolStrokeWidth": 1,
            "labelExpr": "datum.label + '\u00a0\u00a0\u00a0\u00a0\u00a0\u00a0'"
          }
        },
        "size": {
          "field": "facies", "type": "nominal",
          "scale": {"type": "ordinal", "domain": ["U. Shoreface", "L. Shoreface", "Marine Mud", "Ebb Tidal"], "range": [105, 135, 5, 125]}
        },
        "fill": {
          "field": "facies", "type": "nominal",
          "scale": {"domain": ["U. Shoreface", "L. Shoreface", "Marine Mud", "Ebb Tidal"], "range": ["transparent", "transparent", "#3a3a3a", "transparent"]}
        }
      }
    },
    {
      "mark": {"type": "point", "opacity": 0},
      "encoding": {
        "x": {"field": "grain", "type": "quantitative", "axis": {"orient": "top", "values": [0, 50, 100, 150, 200, 250, 300], "labels": false, "title": null}},
        "y": {"field": "sorting", "type": "quantitative", "axis": {"orient": "right", "values": [0, 0.5, 1, 1.5, 2, 2.5, 3, 3.5], "labels": false, "title": null}}
      }
    }
  ],
  "resolve": {"axis": {"x": "independent", "y": "independent"}}
}
